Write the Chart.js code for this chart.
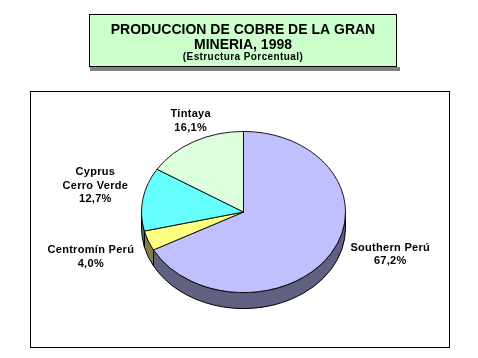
<!DOCTYPE html>
<html><head><meta charset="utf-8">
<script src="https://cdn.jsdelivr.net/npm/chart.js@4"></script>
<style>html,body{margin:0;padding:0;background:#fff;}canvas{display:block;}</style>
</head><body>
<canvas id="c" width="478" height="358"></canvas>
<script>
// ---- data ----
const categories = ['Southern Perú', 'Centromín Perú', 'Cyprus Cerro Verde', 'Tintaya'];
const labelLines = [['Southern Perú'], ['Centromín Perú'], ['Cyprus', 'Cerro Verde'], ['Tintaya']];
const shares = [67.2, 4.0, 12.7, 16.1];
const percentLabels = ['67,2%', '4,0%', '12,7%', '16,1%'];
const titleLines = ['PRODUCCION DE COBRE DE LA GRAN', 'MINERIA, 1998'];
const subtitle = '(Estructura Porcentual)';

// ---- styles ----
const faceColors = ['#C0C0FF', '#FFFF80', '#66FFFF', '#DDFFDD'];
const sideColors = ['#606080', '#808040', '#338080', '#6E806E'];
const TILT = 0.79, DEPTH = 16;
const labelNudge = [[25, -18], [-20, 3], [-8, -9], [16, 9]];
const FONT = '"Liberation Sans", Arial, sans-serif';

const pie3d = {
  id: 'pie3d',
  beforeDraw(chart) {
    const ctx = chart.ctx;
    ctx.save();
    ctx.fillStyle = '#fff';
    ctx.fillRect(0, 0, chart.width, chart.height);
    ctx.strokeStyle = '#000';
    ctx.lineWidth = 1;
    ctx.strokeRect(30.5, 91.5, 419, 256);
    // title box + shadow
    ctx.fillStyle = '#808080';
    ctx.fillRect(90, 67, 310, 4);
    ctx.fillStyle = '#CCFFCC';
    ctx.fillRect(90, 14, 306, 53);
    ctx.strokeRect(89.5, 14.5, 307, 52);
    ctx.fillStyle = '#000';
    ctx.textAlign = 'center';
    ctx.textBaseline = 'alphabetic';
    ctx.font = 'bold 14px ' + FONT;
    ctx.fillText(titleLines[0], 243, 34);
    ctx.fillText(titleLines[1], 243, 49);
    ctx.font = 'bold 10px ' + FONT;
    ctx.letterSpacing = '0.4px';
    ctx.fillText(subtitle, 243, 60);
    ctx.restore();
  },
  beforeDatasetsDraw(chart) {
    const ctx = chart.ctx;
    const meta = chart.getDatasetMeta(0);
    const a0 = meta.data[0];
    const cx = a0.x, cy = a0.y, rx = a0.outerRadius, ry = rx * TILT;
    ctx.save();
    meta.data.forEach((arc, i) => {
      const s = arc.startAngle, e = arc.endAngle;
      for (const [lo, hi] of [[0, Math.PI], [2 * Math.PI, 3 * Math.PI], [-2 * Math.PI, -Math.PI]]) {
        const a = Math.max(s, lo), b = Math.min(e, hi);
        if (b > a) {
          ctx.beginPath();
          ctx.ellipse(cx, cy, rx, ry, 0, a, b, false);
          ctx.lineTo(cx + rx * Math.cos(b), cy + DEPTH + ry * Math.sin(b));
          ctx.ellipse(cx, cy + DEPTH, rx, ry, 0, b, a, true);
          ctx.closePath();
          ctx.fillStyle = sideColors[i];
          ctx.fill();
          ctx.strokeStyle = '#000';
          ctx.lineWidth = 1;
          ctx.stroke();
        }
      }
    });
    ctx.restore();
    ctx.save();
    ctx.translate(cx, cy);
    ctx.scale(1, TILT);
    ctx.translate(-cx, -cy);
  },
  afterDatasetsDraw(chart) {
    chart.ctx.restore();
  },
  afterDraw(chart) {
    const ctx = chart.ctx;
    const meta = chart.getDatasetMeta(0);
    ctx.save();
    ctx.fillStyle = '#000';
    ctx.textAlign = 'center';
    ctx.textBaseline = 'alphabetic';
    ctx.font = 'bold 11px ' + FONT;
    ctx.letterSpacing = '0.3px';
    meta.data.forEach((arc, i) => {
      const mid = (arc.startAngle + arc.endAngle) / 2;
      const R = arc.outerRadius;
      const bx = arc.x + Math.cos(mid) * (R + 40) + labelNudge[i][0];
      const by = arc.y + Math.sin(mid) * (R * TILT + 35) + labelNudge[i][1];
      const lines = labelLines[i].concat([percentLabels[i]]);
      const lh = 13.5;
      lines.forEach((t, j) => {
        const yc = by + (j - (lines.length - 1) / 2) * lh;
        ctx.fillText(t, bx, yc + 4);
      });
    });
    ctx.restore();
  }
};

new Chart(document.getElementById('c'), {
  type: 'pie',
  data: {
    labels: categories,
    datasets: [{
      data: shares,
      backgroundColor: faceColors,
      borderColor: '#000',
      borderWidth: 1,
      clip: false
    }]
  },
  options: {
    responsive: false,
    animation: false,
    events: [],
    layout: { padding: { left: 141, right: 132, top: 109.5, bottom: 43.5 } },
    plugins: { legend: { display: false }, tooltip: { enabled: false }, title: { display: false } }
  },
  plugins: [pie3d]
});
</script>
</body></html>
